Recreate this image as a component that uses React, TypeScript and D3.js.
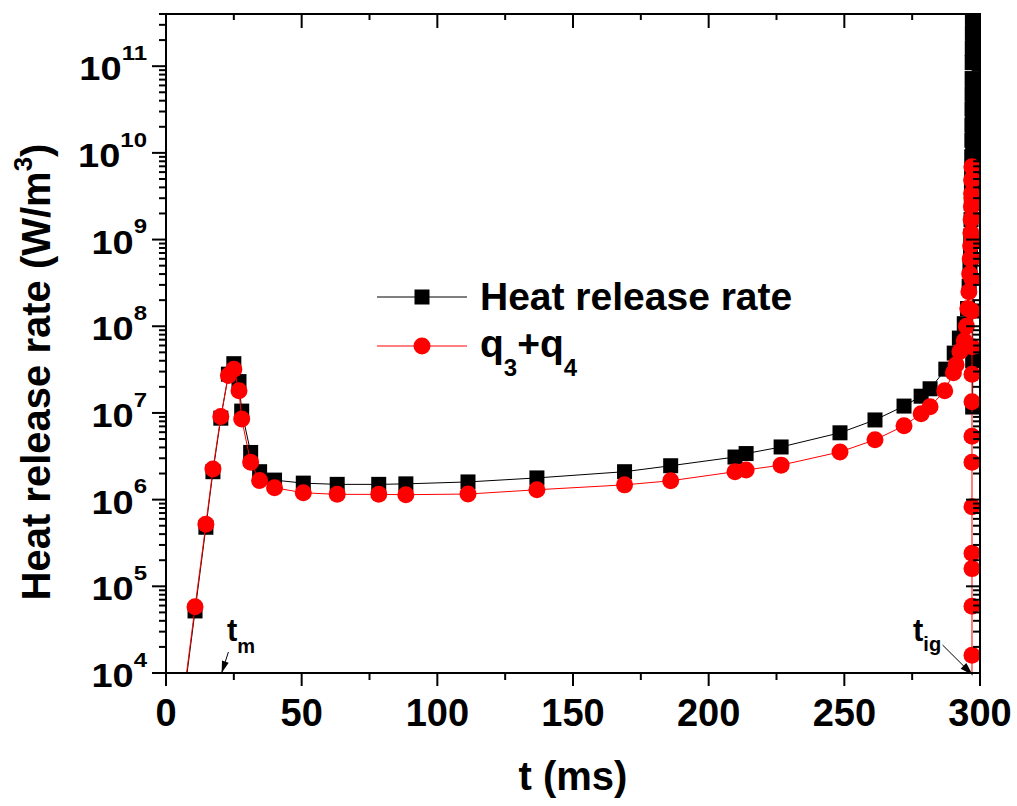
import React from "react";
import * as d3 from "d3";

// ---- data ----
const tHRR = [7.0, 10.7, 14.7, 17.3, 20.2, 23.0, 25.0, 26.9, 27.9, 31.2, 34.5, 40.0, 50.6, 63.1, 78.4, 88.4, 111.3, 136.7, 169.0, 186.0, 209.7, 213.8, 226.7, 248.4, 261.3, 272.0, 278.3, 281.6, 287.4, 290.5, 292.4, 294.2, 295.4, 296.0, 296.3, 296.5, 296.6, 296.7, 296.8, 296.85, 296.9, 296.95, 297.0, 297.02, 297.05, 297.08, 297.1, 297.12, 297.15, 297.18, 297.2, 297.25, 297.3, 297.3, 297.3, 297.3, 297.3, 297.3, 297.3, 297.3, 297.3, 297.3, 297.3, 297.3, 297.3];
const hrr = [6.5e3, 5.2e4, 4.8e5, 2.1e6, 8.7e6, 2.8e7, 3.7e7, 2.3e7, 1.05e7, 3.5e6, 2.1e6, 1.68e6, 1.55e6, 1.5e6, 1.5e6, 1.52e6, 1.6e6, 1.78e6, 2.1e6, 2.46e6, 3.1e6, 3.4e6, 4.05e6, 5.9e6, 8.3e6, 1.2e7, 1.56e7, 1.9e7, 3.2e7, 4.9e7, 7.3e7, 1.07e8, 1.6e8, 2.9e8, 5e8, 7.5e8, 1.1e9, 1.7e9, 2.6e9, 4e9, 6e9, 9e9, 1.4e10, 2.1e10, 3.2e10, 4.8e10, 7.2e10, 1.1e11, 1.6e11, 2.4e11, 3.6e11, 6e11, 4e11, 2.6e11, 1.7e11, 1.1e11, 7e10, 4.5e10, 2.9e10, 1.9e10, 1.2e10, 1e9, 1.5e8, 4e7, 1.17e7, 2.2e6];

const tQ = [7.0, 10.7, 14.7, 17.3, 20.2, 23.0, 25.0, 26.9, 27.9, 31.2, 34.5, 40.0, 50.6, 63.1, 78.4, 88.4, 111.3, 136.7, 169.0, 186.0, 209.7, 213.8, 226.7, 248.4, 261.3, 272.0, 278.3, 281.6, 287.0, 290.2, 291.2, 292.6, 294.2, 295.0, 295.5, 295.9, 296.2, 296.4, 296.55, 296.65, 296.75, 296.85, 296.9, 296.95, 297.0, 297.05, 297.05, 297.05, 297.05, 297.05, 297.05, 297.05, 297.05, 297.05, 297.05, 297.05, 297.05, 297.05, 297.05, 297.05, 297.05, 297.05, 297.05, 297.05];
const q34 = [7.2e3, 5.8e4, 5.2e5, 2.25e6, 9.1e6, 2.7e7, 3.2e7, 1.8e7, 8.5e6, 2.7e6, 1.66e6, 1.37e6, 1.2e6, 1.15e6, 1.15e6, 1.14e6, 1.16e6, 1.3e6, 1.48e6, 1.65e6, 2.1e6, 2.2e6, 2.5e6, 3.55e6, 4.9e6, 7.1e6, 9.8e6, 1.18e7, 1.8e7, 2.9e7, 3.6e7, 5.1e7, 6.8e7, 1.0e8, 1.6e8, 2.5e8, 4.0e8, 6.0e8, 8.5e8, 1.2e9, 1.7e9, 2.4e9, 3.4e9, 4.8e9, 6.9e9, 5.0e9, 3.0e9, 1.8e9, 1.0e9, 6e8, 3.5e8, 1.5e8, 5.8e7, 2.8e7, 1.35e7, 5.4e6, 2.7e6, 8.3e5, 2.4e5, 1.6e5, 5.9e4, 1.6e4, 5e3, 2e3];

const xTicks = [0, 50, 100, 150, 200, 250, 300];
const xMinorTicks = [25, 75, 125, 175, 225, 275];
const yExponents = [4, 5, 6, 7, 8, 9, 10, 11];

const legendLabels = ["Heat release rate", "q"];

const W = 1017, H = 806;
const L = 166, R = 980, T = 14, B = 673;
const FONT = "'Liberation Sans', Arial, Helvetica, sans-serif";

export default function App() {
  const x = d3.scaleLinear().domain([0, 300]).range([L, R]);
  const y = d3.scaleLog().domain([1e4, 4e11]).range([B, T]);

  const minorY: number[] = [];
  for (const e of yExponents) {
    for (let m = 2; m <= 9; m++) {
      const v = m * Math.pow(10, e);
      if (v <= 4e11) minorY.push(v);
    }
  }

  const lineGen = d3.line<[number, number]>().x(d => x(d[0])).y(d => y(d[1]));
  const blackPts: [number, number][] = tHRR.map((t, i) => [t, hrr[i]]);
  const redPts: [number, number][] = tQ.map((t, i) => [t, q34[i]]);

  const sq = 15, rc = 8.5;

  const arrowHead = (x1: number, y1: number, x2: number, y2: number, len: number, wid: number) => {
    const ang = Math.atan2(y2 - y1, x2 - x1);
    const bx = x2 - len * Math.cos(ang), by = y2 - len * Math.sin(ang);
    const px = -Math.sin(ang) * wid / 2, py = Math.cos(ang) * wid / 2;
    return `M${x2},${y2}L${bx + px},${by + py}L${bx - px},${by - py}Z`;
  };

  const tmTip = [x(20.5), y(1e4)];
  const tmTail = [x(23), y(1e4) - 21];
  const tigTip = [x(297.3), y(1e4) + 2];
  const tigTail = [x(286.2), y(1e4) - 28];

  return (
    <svg width={W} height={H} style={{ display: "block", position: "absolute", left: 0, top: 0 }} fontFamily={FONT}>
      <defs>
        <clipPath id="plotclip">
          <rect x={L} y={T} width={R - L} height={B - T} />
        </clipPath>
      </defs>
      <rect x={0} y={0} width={W} height={H} fill="#fff" />

      {/* data */}
      <g clipPath="url(#plotclip)">
        <path d={lineGen(blackPts) || ""} fill="none" stroke="#000" strokeWidth={1} />
        {blackPts.map((p, i) => (
          <rect key={"b" + i} x={x(p[0]) - sq / 2} y={y(p[1]) - sq / 2} width={sq} height={sq} fill="#000" />
        ))}
        <path d={lineGen(redPts) || ""} fill="none" stroke="#ff0000" strokeWidth={1} />
        {redPts.map((p, i) => (
          <circle key={"r" + i} cx={x(p[0])} cy={y(p[1])} r={rc} fill="#ff0000" />
        ))}
      </g>

      {/* axes frame */}
      <rect x={L} y={T} width={R - L} height={B - T} fill="none" stroke="#000" strokeWidth={2} />

      {/* x ticks */}
      {xTicks.map(t => (
        <g key={"xt" + t}>
          <line x1={x(t)} x2={x(t)} y1={B} y2={B + 13} stroke="#000" strokeWidth={2} />
          <line x1={x(t)} x2={x(t)} y1={T} y2={T + 14} stroke="#000" strokeWidth={2} />
          <text x={x(t)} y={726} textAnchor="middle" fontSize={38} fontWeight="bold">{t}</text>
        </g>
      ))}
      {xMinorTicks.map(t => (
        <g key={"xm" + t}>
          <line x1={x(t)} x2={x(t)} y1={B} y2={B + 7} stroke="#000" strokeWidth={2} />
          <line x1={x(t)} x2={x(t)} y1={T} y2={T + 6} stroke="#000" strokeWidth={2} />
        </g>
      ))}

      {/* y ticks */}
      {yExponents.map(e => {
        const yy = y(Math.pow(10, e));
        return (
          <g key={"yt" + e}>
            <line x1={L - 14} x2={L} y1={yy} y2={yy} stroke="#000" strokeWidth={2} />
            <line x1={R - 14} x2={R} y1={yy} y2={yy} stroke="#000" strokeWidth={2} />
            <g transform={`translate(147,${yy}) scale(1,0.88)`}>
              <text x={0} y={16} textAnchor="end" fontSize={38} fontWeight="bold">
                10<tspan fontSize={24} dy={-23}>{e}</tspan>
              </text>
            </g>
          </g>
        );
      })}
      {minorY.map((v, i) => (
        <g key={"ym" + i}>
          <line x1={L - 7} x2={L} y1={y(v)} y2={y(v)} stroke="#000" strokeWidth={2} />
          <line x1={R - 7} x2={R} y1={y(v)} y2={y(v)} stroke="#000" strokeWidth={2} />
        </g>
      ))}

      {/* axis titles */}
      <text x={573} y={790} textAnchor="middle" fontSize={40} fontWeight="bold">t (ms)</text>
      <text transform="translate(50,372) rotate(-90)" textAnchor="middle" fontSize={40} fontWeight="bold">
        Heat release rate (W/m<tspan fontSize={26} dy={-18}>3</tspan><tspan dy={18}>)</tspan>
      </text>

      {/* legend */}
      <line x1={377} x2={467} y1={297} y2={297} stroke="#000" strokeWidth={1} />
      <rect x={422 - 7.5} y={297 - 7.5} width={15} height={15} fill="#000" />
      <text x={480} y={310} fontSize={39} fontWeight="bold">{legendLabels[0]}</text>
      <line x1={377} x2={467} y1={346} y2={346} stroke="#ff0000" strokeWidth={1} />
      <circle cx={422} cy={346} r={8.5} fill="#ff0000" />
      <text x={480} y={357} fontSize={39} fontWeight="bold">
        {legendLabels[1]}<tspan fontSize={24} dy={19}>3</tspan><tspan dy={-19}>+q</tspan><tspan fontSize={24} dy={19}>4</tspan>
      </text>

      {/* annotations */}
      <text x={227} y={641} fontSize={31} fontWeight="bold">t<tspan fontSize={20} dy={12}>m</tspan></text>
      <line x1={tmTail[0]} y1={tmTail[1]} x2={tmTip[0]} y2={tmTip[1]} stroke="#000" strokeWidth={1} />
      <path d={arrowHead(tmTail[0], tmTail[1], tmTip[0], tmTip[1], 12, 7)} fill="#000" />

      <text x={913} y={641} fontSize={31} fontWeight="bold">t<tspan fontSize={20} dy={10}>ig</tspan></text>
      <line x1={tigTail[0]} y1={tigTail[1]} x2={tigTip[0]} y2={tigTip[1]} stroke="#000" strokeWidth={1} />
      <path d={arrowHead(tigTail[0], tigTail[1], tigTip[0], tigTip[1], 13, 8)} fill="#000" />
    </svg>
  );
}
